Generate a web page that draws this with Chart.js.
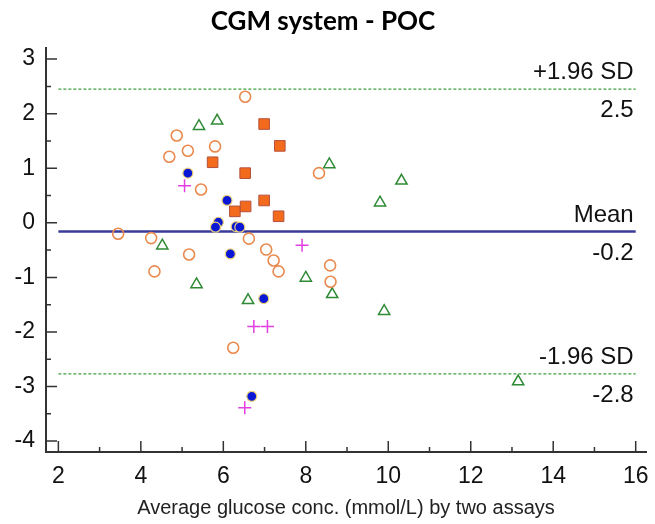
<!DOCTYPE html>
<html>
  <head>
    <script src="https://cdn.jsdelivr.net/npm/chart.js"></script>
    <style>
      body { margin: 0; background: #fff; }
      #wrap { width: 655px; height: 524px; }
    </style>
  </head>
  <body>
    <div id="wrap"><canvas id="ba-chart"></canvas></div>
    <script>
      // Bland-Altman: x = average of both assays, y = difference
      var openCircles = [
        [3.45, -0.20], [4.25, -0.28], [4.33, -0.89], [4.69, 1.21], [4.87, 1.60],
        [5.14, 1.32], [5.17, -0.58], [5.46, 0.61], [5.80, 1.40], [6.53, 2.31],
        [6.62, -0.29], [6.24, -2.29], [7.04, -0.49], [7.22, -0.69], [7.34, -0.89],
        [8.32, 0.91], [8.59, -0.78], [8.60, -1.08]
      ];
      var triangles = [
        [4.52, -0.42], [5.35, -1.13], [5.41, 1.77], [5.85, 1.87], [6.60, -1.42],
        [8.00, -1.01], [8.57, 1.07], [8.64, -1.31], [9.80, 0.37], [9.90, -1.62],
        [10.32, 0.77], [13.15, -2.91]
      ];
      var squares = [
        [5.74, 1.11], [6.99, 1.81], [7.37, 1.41], [6.53, 0.91], [6.28, 0.21],
        [6.54, 0.30], [6.99, 0.41], [7.34, 0.12]
      ];
      var dots = [
        [5.14, 0.91], [6.09, 0.41], [5.88, 0.01], [5.81, -0.08], [6.31, -0.07],
        [6.40, -0.08], [6.17, -0.57], [6.98, -1.39], [6.69, -3.18]
      ];
      var crosses = [
        [5.06, 0.68], [7.91, -0.41], [6.74, -1.90], [7.07, -1.90], [6.52, -3.39]
      ];

      var meanDiff = -0.16;
      var upperLoA = 2.45;
      var lowerLoA = -2.77;
      var lineRange = [2, 16];
      var refLabels = [
        { value: upperLoA, above: '+1.96 SD', below: '2.5' },
        { value: meanDiff, above: 'Mean', below: '-0.2' },
        { value: lowerLoA, above: '-1.96 SD', below: '-2.8' }
      ];

      var xTicks = [2, 4, 6, 8, 10, 12, 14, 16];
      var yTicks = [-4, -3, -2, -1, 0, 1, 2, 3];

      function pts(arr) {
        return arr.map(function (p) { return { x: p[0], y: p[1] }; });
      }
      function hline(v) {
        return [{ x: lineRange[0], y: v }, { x: lineRange[1], y: v }];
      }

      var axisColor = '#333';

      // ticks drawn on the inside of the axes, majors and minors
      var innerTicks = {
        id: 'innerTicks',
        afterDraw: function (chart) {
          var ctx = chart.ctx;
          var xs = chart.scales.x, ys = chart.scales.y;
          var bottom = chart.chartArea.bottom, left = chart.chartArea.left;
          ctx.save();
          ctx.strokeStyle = axisColor;
          ctx.lineWidth = 1.5;
          ctx.beginPath();
          for (var v = 2; v <= 16; v++) {
            var px = xs.getPixelForValue(v);
            var len = v % 2 === 0 ? 11 : 5;
            ctx.moveTo(px, bottom);
            ctx.lineTo(px, bottom - len);
          }
          for (var w = -4; w <= 3; w += 0.5) {
            var py = ys.getPixelForValue(w);
            var l2 = Number.isInteger(w) ? 11 : 5;
            ctx.moveTo(left, py);
            ctx.lineTo(left + l2, py);
          }
          ctx.stroke();
          ctx.restore();
        }
      };

      // labels at the right end of the mean and limit lines
      var refText = {
        id: 'refText',
        afterDatasetsDraw: function (chart) {
          var ctx = chart.ctx;
          var xs = chart.scales.x, ys = chart.scales.y;
          var right = xs.getPixelForValue(lineRange[1]) - 2;
          ctx.save();
          ctx.fillStyle = '#111';
          ctx.font = '24px "Liberation Sans", Arial, sans-serif';
          ctx.textAlign = 'right';
          ctx.textBaseline = 'alphabetic';
          refLabels.forEach(function (r) {
            var py = ys.getPixelForValue(r.value);
            ctx.fillText(r.above, right, py - 10);
            ctx.fillText(r.below, right, py + 28);
          });
          ctx.restore();
        }
      };

      var ctx = document.getElementById('ba-chart').getContext('2d');
      var baChart = new Chart(ctx, {
        type: 'scatter',
        data: {
          datasets: [
            {
              type: 'line', label: 'upper', data: hline(upperLoA), order: 10,
              borderColor: '#3f9f3f', borderWidth: 1.3, borderDash: [3, 2],
              pointRadius: 0, fill: false
            },
            {
              type: 'line', label: 'mean', data: hline(meanDiff), order: 10,
              borderColor: '#3a3a98', borderWidth: 2.5,
              pointRadius: 0, fill: false
            },
            {
              type: 'line', label: 'lower', data: hline(lowerLoA), order: 10,
              borderColor: '#3f9f3f', borderWidth: 1.3, borderDash: [3, 2],
              pointRadius: 0, fill: false
            },
            {
              label: 'circles', data: pts(openCircles),
              pointStyle: 'circle', pointRadius: 5.5,
              borderColor: '#e98a4e', borderWidth: 1.6, backgroundColor: 'rgba(255,255,255,0)'
            },
            {
              label: 'triangles', data: pts(triangles),
              pointStyle: 'triangle', pointRadius: 6.5,
              borderColor: '#2f8a35', borderWidth: 1.5, backgroundColor: 'rgba(255,255,255,0)'
            },
            {
              label: 'squares', data: pts(squares),
              pointStyle: 'rect', pointRadius: 7.5,
              borderColor: '#b4503c', borderWidth: 1, backgroundColor: '#f36a1c'
            },
            {
              label: 'dots', data: pts(dots),
              pointStyle: 'circle', pointRadius: 5,
              borderColor: '#edd27a', borderWidth: 1.2, backgroundColor: '#0a18d6'
            },
            {
              label: 'crosses', data: pts(crosses),
              pointStyle: 'cross', pointRadius: 6.5,
              borderColor: '#e23ee2', borderWidth: 1.5
            }
          ]
        },
        options: {
          responsive: true,
          maintainAspectRatio: false,
          animation: false,
          layout: { padding: { left: 0, right: 9, top: 0, bottom: 0 } },
          plugins: {
            legend: { display: false },
            tooltip: { enabled: false },
            title: {
              display: true,
              text: 'CGM system - POC',
              color: '#000',
              font: { family: 'Lato, "Open Sans", sans-serif', size: 26, weight: 'bold' },
              padding: { top: 6, bottom: 11 }
            }
          },
          scales: {
            x: {
              type: 'linear',
              min: 1.7,
              max: 16.25,
              afterBuildTicks: function (s) {
                s.ticks = xTicks.map(function (v) { return { value: v }; });
              },
              afterFit: function (s) {
                s.height = 72;
                s.paddingLeft = 0;
                s.paddingRight = 0;
              },
              grid: { display: false, drawTicks: false },
              border: { display: true, color: axisColor, width: 2 },
              ticks: {
                color: '#111',
                padding: 11,
                maxRotation: 0,
                font: { family: '"Liberation Sans", Arial, sans-serif', size: 23 }
              },
              title: {
                display: true,
                text: 'Average glucose conc. (mmol/L) by two assays',
                color: '#222',
                font: { family: '"Liberation Sans", Arial, sans-serif', size: 20 },
                padding: { top: 0, bottom: 4 }
              }
            },
            y: {
              type: 'linear',
              min: -4.2,
              max: 3.2,
              afterBuildTicks: function (s) {
                s.ticks = yTicks.map(function (v) { return { value: v }; });
              },
              afterFit: function (s) {
                s.width = 46;
                s.paddingTop = 0;
                s.paddingBottom = 0;
              },
              grid: { display: false, drawTicks: false },
              border: { display: true, color: axisColor, width: 2 },
              ticks: {
                color: '#111',
                padding: 11,
                font: { family: '"Liberation Sans", Arial, sans-serif', size: 23 }
              }
            }
          }
        },
        plugins: [innerTicks, refText]
      });
    </script>
  </body>
</html>
